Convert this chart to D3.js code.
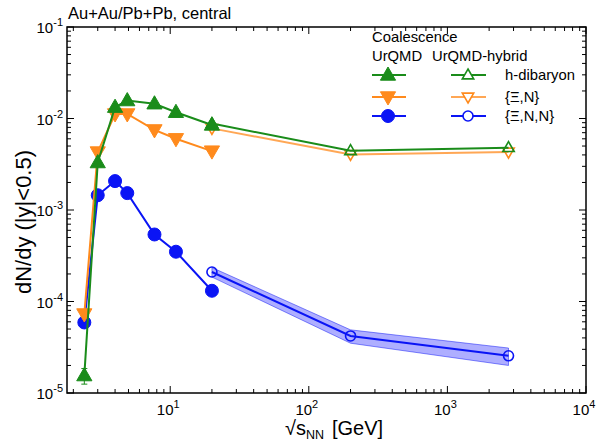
<!DOCTYPE html>
<html>
<head>
<meta charset="utf-8">
<script src="https://cdn.jsdelivr.net/npm/d3@7"></script>
<style>
  body { margin: 0; background: #fff; }
  text { font-family: "Liberation Sans", Arial, sans-serif; }
</style>
</head>
<body>
<svg id="chart" width="598" height="442"></svg>
<script>
// collision energies (GeV)
const urqmdEnergy = [2.4, 3.0, 4.0, 4.9, 7.7, 11, 20];
const hybridEnergy = [20, 200, 2760];

// UrQMD coalescence yields
const hDibaryonUrqmd = [1.55e-5, 3.3e-3, 1.33e-2, 1.57e-2, 1.45e-2, 1.17e-2, 8.5e-3];
const hDibaryonErr = [0.3e-5, 0, 0, 0, 0, 0, 0];
const xiNUrqmd = [7.3e-5, 4.3e-3, 1.12e-2, 1.12e-2, 7.5e-3, 6.0e-3, 4.4e-3];
const xiNNUrqmd = [5.9e-5, 1.45e-3, 2.07e-3, 1.53e-3, 5.4e-4, 3.5e-4, 1.31e-4];

// UrQMD-hybrid coalescence yields
const hDibaryonHybrid = [8.8e-3, 4.45e-3, 4.8e-3];
const xiNHybrid = [7.8e-3, 4.05e-3, 4.3e-3];
const xiNNHybrid = [2.1e-4, 4.2e-5, 2.55e-5];
const xiNNHybridLow = [1.85e-4, 3.5e-5, 2.0e-5];
const xiNNHybridHigh = [2.35e-4, 4.9e-5, 3.1e-5];

const legendLabels = ["h-dibaryon", "{\u039E,N}", "{\u039E,N,N}"];

const svg = d3.select("#chart");
const margin = { top: 27, right: 12, bottom: 49, left: 67 };
const width = 598, height = 442;

const x = d3.scaleLog().domain([1.8, 1e4]).range([margin.left, width - margin.right]);
const y = d3.scaleLog().domain([1e-5, 1e-1]).range([height - margin.bottom, margin.top]);

const green = "#1a8c1a", orange = "#ff8a1c", blue = "#0a14f5";

// ticks, all four sides, pointing inward
const axisG = svg.append("g").attr("stroke", "#000").attr("stroke-width", 1);
const [x0, x1] = x.range();
const [y0, y1] = y.range();
for (let e = 0; e <= 4; e++) {
    for (let m = 1; m <= 9; m++) {
        const v = m * Math.pow(10, e);
        if (v < x.domain()[0] || v > x.domain()[1]) continue;
        const len = m === 1 ? 7 : 4;
        const px = x(v);
        axisG.append("line").attr("x1", px).attr("x2", px).attr("y1", y0).attr("y2", y0 - len);
        axisG.append("line").attr("x1", px).attr("x2", px).attr("y1", y1).attr("y2", y1 + len);
    }
}
for (let e = -5; e <= -1; e++) {
    for (let m = 1; m <= 9; m++) {
        const v = m * Math.pow(10, e);
        if (v > 0.1 + 1e-12) continue;
        const len = m === 1 ? 7 : 4;
        const py = y(v);
        axisG.append("line").attr("y1", py).attr("y2", py).attr("x1", x0).attr("x2", x0 + len);
        axisG.append("line").attr("y1", py).attr("y2", py).attr("x1", x1).attr("x2", x1 - len);
    }
}

// frame
svg.append("rect")
    .attr("x", x0).attr("y", y1)
    .attr("width", x1 - x0).attr("height", y0 - y1)
    .attr("fill", "none").attr("stroke", "#000").attr("stroke-width", 1.5);

// tick labels
[1, 2, 3, 4].forEach(e => {
    const t = svg.append("text")
        .attr("x", x(Math.pow(10, e)) - 2)
        .attr("y", y0 + 22)
        .attr("text-anchor", "middle")
        .attr("font-size", 15);
    t.append("tspan").text("10");
    t.append("tspan").attr("dy", -7).attr("font-size", 11).text(e);
});
[-5, -4, -3, -2, -1].forEach(e => {
    const t = svg.append("text")
        .attr("x", x0 - 4)
        .attr("y", y(Math.pow(10, e)) + 6)
        .attr("text-anchor", "end")
        .attr("font-size", 15);
    t.append("tspan").text("10");
    t.append("tspan").attr("dy", -7).attr("font-size", 11).text(e);
});

// axis titles
const xt = svg.append("text")
    .attr("x", 334).attr("y", 435)
    .attr("text-anchor", "middle")
    .attr("font-size", 20);
xt.append("tspan").text("\u221As");
xt.append("tspan").attr("dy", 4).attr("font-size", 12.5).text("NN");
xt.append("tspan").attr("dy", -4).attr("dx", 8).text("[GeV]");

svg.append("text")
    .attr("transform", `translate(31, ${(y0 + y1) / 2 + 12}) rotate(-90)`)
    .attr("text-anchor", "middle")
    .attr("font-size", 22)
    .text("dN/dy (|y|<0.5)");

svg.append("text")
    .attr("x", 68).attr("y", 19)
    .attr("font-size", 16.5)
    .text("Au+Au/Pb+Pb, central");

// uncertainty band for hybrid {Xi,N,N}
const area = d3.area()
    .x((d, i) => x(hybridEnergy[i]))
    .y0((d, i) => y(xiNNHybridLow[i]))
    .y1((d, i) => y(xiNNHybridHigh[i]));
svg.append("path")
    .attr("d", area(hybridEnergy))
    .attr("fill", "#8c8cff")
    .attr("fill-opacity", 0.7)
    .attr("stroke", blue)
    .attr("stroke-width", 0.8)
    .attr("stroke-opacity", 0.6);

const line = d3.line();
function drawSeries(energy, values, color, symbol, filled, lineOpacity) {
    const pts = energy.map((e, i) => [x(e), y(values[i])]);
    svg.append("path")
        .attr("d", line(pts))
        .attr("fill", "none")
        .attr("stroke", color)
        .attr("stroke-opacity", lineOpacity)
        .attr("stroke-width", 2);
    svg.append("g").selectAll("path")
        .data(pts)
        .join("path")
        .attr("transform", d => `translate(${d[0]},${d[1]})`)
        .attr("d", symbol)
        .attr("fill", filled ? color : "#fff")
        .attr("fill-opacity", filled ? 1 : 0)
        .attr("stroke", color)
        .attr("stroke-width", filled ? 1 : 1.6);
}

const triUp = (s) => `M0,${-s}L${s * 0.95},${s * 0.65}L${-s * 0.95},${s * 0.65}Z`;
const triDown = (s) => `M0,${s}L${s * 0.95},${-s * 0.65}L${-s * 0.95},${-s * 0.65}Z`;
const circle = (r) => `M${r},0A${r},${r} 0 1,1 ${-r},0A${r},${r} 0 1,1 ${r},0Z`;

// error bars on UrQMD h-dibaryon
svg.append("g").selectAll("g")
    .data(urqmdEnergy.map((e, i) => ({ e, v: hDibaryonUrqmd[i], err: hDibaryonErr[i] })).filter(d => d.err > 0))
    .join("g")
    .each(function (d) {
        const g = d3.select(this).attr("stroke", green).attr("stroke-width", 1);
        const px = x(d.e);
        g.append("line").attr("x1", px).attr("x2", px).attr("y1", y(d.v + d.err)).attr("y2", y(d.v - d.err));
        g.append("line").attr("x1", px - 3).attr("x2", px + 3).attr("y1", y(d.v + d.err)).attr("y2", y(d.v + d.err));
        g.append("line").attr("x1", px - 3).attr("x2", px + 3).attr("y1", y(d.v - d.err)).attr("y2", y(d.v - d.err));
    });

// hybrid
drawSeries(hybridEnergy, xiNNHybrid, blue, circle(5), false, 1);
drawSeries(hybridEnergy, xiNHybrid, orange, triDown(6), false, 0.75);
drawSeries(hybridEnergy, hDibaryonHybrid, green, triUp(6), false, 1);

// UrQMD
drawSeries(urqmdEnergy, xiNNUrqmd, blue, circle(6.5), true, 1);
drawSeries(urqmdEnergy, xiNUrqmd, orange, triDown(8), true, 1);
drawSeries(urqmdEnergy, hDibaryonUrqmd, green, triUp(8), true, 1);

// legend
const leg = svg.append("g");
leg.append("text").attr("x", 372).attr("y", 42).attr("font-size", 14.8).text("Coalescence");
leg.append("text").attr("x", 372).attr("y", 61).attr("font-size", 14.8).text("UrQMD");
leg.append("text").attr("x", 432).attr("y", 61).attr("font-size", 14.8).text("UrQMD-hybrid");

const legRows = [
    { color: green, filledSym: triUp(8), openSym: triUp(6), op: 1 },
    { color: orange, filledSym: triDown(8), openSym: triDown(6), op: 0.75 },
    { color: blue, filledSym: circle(6.5), openSym: circle(5), op: 1 }
];
const legY = [75, 97, 116];
legRows.forEach((r, i) => {
    const ly = legY[i];
    leg.append("line").attr("x1", 372).attr("x2", 406).attr("y1", ly).attr("y2", ly)
        .attr("stroke", r.color).attr("stroke-width", 2);
    leg.append("path").attr("transform", `translate(388,${ly})`).attr("d", r.filledSym)
        .attr("fill", r.color).attr("stroke", r.color);
    leg.append("line").attr("x1", 451).attr("x2", 486).attr("y1", ly).attr("y2", ly)
        .attr("stroke", r.color).attr("stroke-opacity", r.op).attr("stroke-width", 2);
    leg.append("path").attr("transform", `translate(468,${ly})`).attr("d", r.openSym)
        .attr("fill", "#fff").attr("stroke", r.color).attr("stroke-width", 1.6);
    leg.append("text").attr("x", 505).attr("y", ly + 5).attr("font-size", 14.8).text(legendLabels[i]);
});
</script>
</body>
</html>
